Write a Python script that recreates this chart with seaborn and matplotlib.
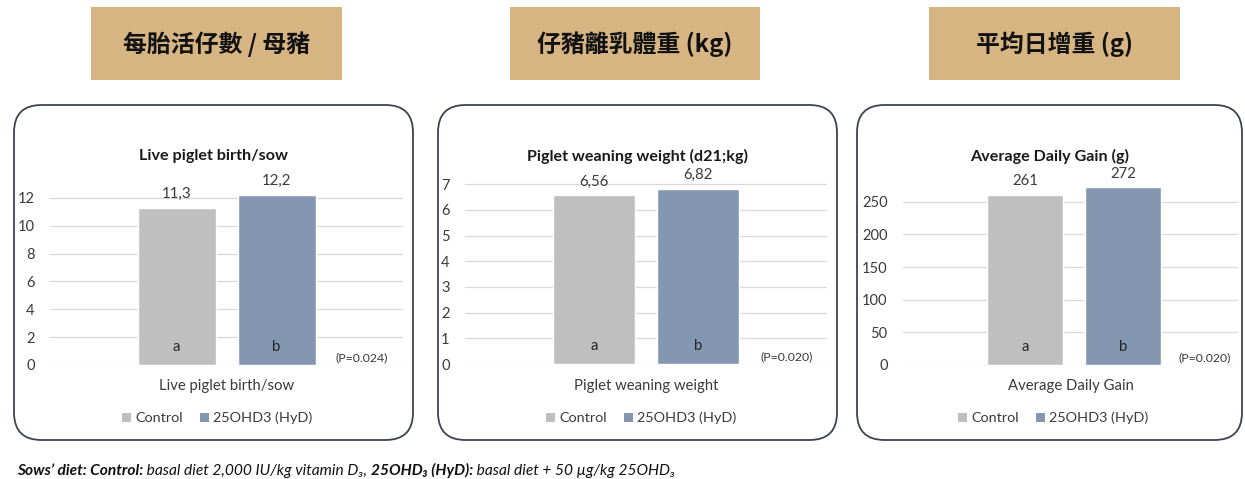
import matplotlib
matplotlib.use("Agg")
import matplotlib.pyplot as plt
import seaborn as sns
from matplotlib.patches import FancyBboxPatch, Rectangle, Patch
from matplotlib.offsetbox import TextArea, HPacker, AnchoredOffsetbox

# ---- data -------------------------------------------------------------
groups = ["Control", "25OHD3 (HyD)"]
live_birth = [11.3, 12.2]
wean_weight = [6.56, 6.82]
daily_gain = [261, 272]
letters = ["a", "b"]

headers = ["每胎活仔數 / 母豬", "仔豬離乳體重 (kg)", "平均日增重 (g)"]
titles = ["Live piglet birth/sow", "Piglet weaning weight (d21;kg)", "Average Daily Gain (g)"]
xlabels = ["Live piglet birth/sow", "Piglet weaning weight", "Average Daily Gain"]
p_values = ["(P=0.024)", "(P=0.020)", "(P=0.020)"]
yticks = [[0, 2, 4, 6, 8, 10, 12], [0, 1, 2, 3, 4, 5, 6, 7], [0, 50, 100, 150, 200, 250]]
ylims = [13.0, 7.2, 285]
value_fmt = ["{:.1f}", "{:.2f}", "{:.0f}"]

# ---- style ------------------------------------------------------------
sns.set_theme(style="white")
plt.rcParams["font.family"] = ["Lato", "DejaVu Sans"]

W, H = 1245, 479
fig = plt.figure(figsize=(W / 100, H / 100), dpi=100)
fig.patch.set_facecolor("white")

palette = {"Control": "#BFBFBF", "25OHD3 (HyD)": "#8497B0"}
TXT = "#3A3A3A"
TAN = "#D6B583"


def fx(px):
    return px / W


def fy(py):
    return 1 - py / H


# panel geometry in pixels: frame box, axes box, header box
panels = [
    dict(frame=(14, 105, 413, 440), ax=(50, 403, 365), xlim=(-1.265, 2.265),
         header=(91, 7, 342, 80), pval=(362, 358)),
    dict(frame=(438, 105, 837, 440), ax=(465, 827, 364), xlim=(-1.24, 2.24),
         header=(510, 7, 760, 80), pval=(787, 357)),
    dict(frame=(857, 105, 1242, 440), ax=(903, 1238, 365), xlim=(-1.245, 2.175),
         header=(929, 7, 1180, 80), pval=(1205, 358)),
]
axes_tops = [184, 179, 179]
series = [live_birth, wean_weight, daily_gain]

for i, p in enumerate(panels):
    # header box with Chinese caption
    hx0, hy0, hx1, hy1 = p["header"]
    fig.add_artist(Rectangle((fx(hx0), fy(hy1)), fx(hx1 - hx0), (hy1 - hy0) / H,
                             transform=fig.transFigure, facecolor=TAN,
                             edgecolor="none", zorder=0))
    fig.text(fx((hx0 + hx1) / 2), fy((hy0 + hy1) / 2 + 1), headers[i],
             ha="center", va="center", fontsize=17.2, fontweight="bold",
             family=["Noto Sans CJK TC", "DejaVu Sans"], color="#111111")

    # rounded chart frame
    x0, y0, x1, y1 = p["frame"]
    fig.add_artist(FancyBboxPatch((fx(x0), fy(y1)), fx(x1 - x0), (y1 - y0) / H,
                                  boxstyle="round,pad=0,rounding_size=0.022",
                                  mutation_aspect=W / H,
                                  transform=fig.transFigure, facecolor="white",
                                  edgecolor="#3E4350", linewidth=1.3, zorder=0))

    # axes
    al, ar, ab = p["ax"]
    at = axes_tops[i]
    ax = fig.add_axes([fx(al), fy(ab), fx(ar - al), (ab - at) / H])
    ax.set_facecolor("none")
    vals = series[i]
    sns.barplot(x=groups, y=vals, hue=groups, palette=palette, width=0.78,
                saturation=1, legend=False, ax=ax, zorder=3)
    ax.set_xlim(*p["xlim"])
    ax.set_ylim(0, ylims[i])
    ax.set_yticks(yticks[i])
    ax.set_xticks([])
    ax.set_xlabel("")
    ax.set_ylabel("")
    for s in ax.spines.values():
        s.set_visible(False)
    ax.yaxis.grid(True, color="#D9D9D9", linewidth=0.9, zorder=0)
    ax.set_axisbelow(True)
    ax.tick_params(axis="y", length=0, pad=11, labelsize=10.5, labelcolor=TXT)

    for j, v in enumerate(vals):
        ax.annotate(value_fmt[i].format(v).replace(".", ","), (j, v),
                    xytext=(0, 10), textcoords="offset points",
                    ha="center", va="center", fontsize=10.8, color=TXT)
        ax.annotate(letters[j], (j, 0), xytext=(0, 13), textcoords="offset points",
                    ha="center", va="center", fontsize=10.8, color="#262626")

    # titles, axis caption, p-value and legend
    cx = (x0 + x1) / 2
    fig.text(fx(cx), fy(156), titles[i], ha="center", va="center",
             fontsize=11.6, fontweight="bold", color="#1A1A1A")
    fig.text(fx((al + ar) / 2), fy(386), xlabels[i], ha="center", va="center",
             fontsize=10.7, color=TXT)
    fig.text(fx(p["pval"][0]), fy(p["pval"][1]), p_values[i], ha="center",
             va="center", fontsize=8.8, color=TXT)
    handles = [Patch(facecolor=palette[g], edgecolor="none", label=g) for g in groups]
    fig.legend(handles=handles, loc="center", ncol=2, frameon=False,
               bbox_to_anchor=(fx(cx + 4), fy(418)), fontsize=10.4,
               handlelength=0.6, handleheight=0.6, handletextpad=0.3,
               columnspacing=1.2, labelcolor=TXT)

# footnote describing the diets
fam = ["Lato", "DejaVu Sans"]
pieces = [
    ("Sows\u2019 diet: Control:", "bold"),
    (" basal diet 2,000 IU/kg vitamin D\u2083, ", "normal"),
    ("25OHD\u2083 (HyD):", "bold"),
    (" basal diet + 50 \u00b5g/kg 25OHD\u2083", "normal"),
]
areas = [TextArea(t, textprops=dict(fontsize=11.2, fontstyle="italic",
                                    fontweight=w, color="#111111", family=fam))
         for t, w in pieces]
foot = AnchoredOffsetbox(loc="center left",
                         child=HPacker(children=areas, pad=0, sep=0, align="baseline"),
                         bbox_to_anchor=(fx(17), fy(470)),
                         bbox_transform=fig.transFigure, frameon=False,
                         pad=0, borderpad=0)
fig.add_artist(foot)

fig.savefig("out.png", dpi=100, facecolor="white")
